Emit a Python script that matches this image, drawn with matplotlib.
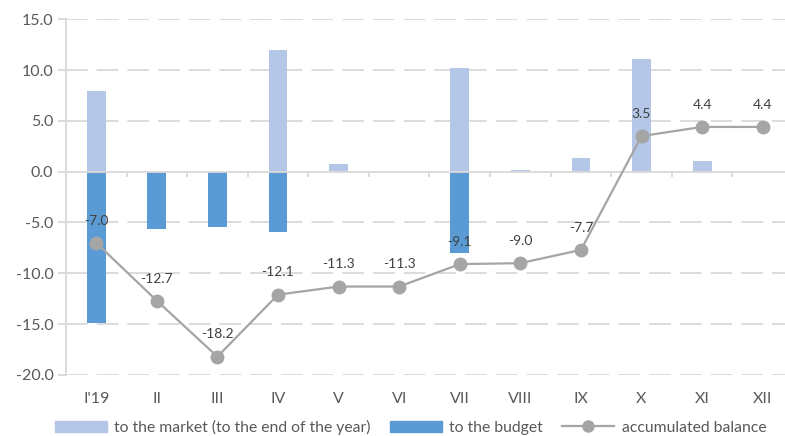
import numpy as np
import matplotlib.pyplot as plt
from matplotlib.patches import Patch
from matplotlib.lines import Line2D

plt.rcParams['font.family'] = ['Lato', 'DejaVu Sans']

months = ["I'19", "II", "III", "IV", "V", "VI", "VII", "VIII", "IX", "X", "XI", "XII"]
to_market = [7.9, 0.0, 0.0, 12.0, 0.8, 0.0, 10.2, 0.2, 1.3, 11.1, 1.0, 0.0]
to_budget = [-14.9, -5.6, -5.4, -5.9, 0.0, 0.0, -8.0, 0.0, 0.0, 0.0, 0.0, 0.0]
balance = [-7.0, -12.7, -18.2, -12.1, -11.3, -11.3, -9.1, -9.0, -7.7, 3.5, 4.4, 4.4]

c_market = '#B4C7E7'
c_budget = '#5B9BD5'
c_line = '#A5A5A5'
c_text = '#595959'
c_grid = '#D9D9D9'


def main():
    fig = plt.figure(figsize=(7.85, 4.36), dpi=100)
    ax = fig.add_axes([0.084, 0.14, 0.916, 0.816])

    x = np.arange(len(months))
    ax.bar(x, to_market, width=0.31, color=c_market, zorder=2)
    ax.bar(x, to_budget, width=0.31, color=c_budget, zorder=2)
    ax.plot(x, balance, color=c_line, lw=1.6, marker='o', ms=9, zorder=4)

    # value labels above the balance points
    for xi, v in zip(x, balance):
        ax.annotate(f'{v:.1f}', (xi, v), xytext=(0, 16), textcoords='offset points',
                    ha='center', va='center', fontsize=10, color='#404040', zorder=5)

    ax.set_ylim(-20, 15)
    ax.set_yticks(np.arange(-20, 16, 5))
    ax.set_yticklabels([f'{t:.1f}' for t in np.arange(-20, 16, 5)])
    ax.set_xlim(-0.5, 11.5 - (793 - 785) / 60.6)
    ax.set_xticks(x)
    ax.set_xticklabels(months)

    for t in np.arange(-20, 16, 5):
        if t == 0:
            continue
        ln = ax.axhline(t, color=c_grid, lw=1.3, zorder=1)
        ln.set_dashes((12, 5))
    ax.axhline(0, color=c_grid, lw=1.3, zorder=3)
    ax.vlines(x[:-1] + 0.5, -0.55, 0, color=c_grid, lw=1.3, zorder=3)

    for s in ['top', 'right', 'bottom']:
        ax.spines[s].set_visible(False)
    ax.spines['left'].set_color(c_grid)
    ax.spines['left'].set_linewidth(1.3)
    ax.tick_params(axis='y', colors=c_grid, labelcolor=c_text, labelsize=11.5,
                   length=6, width=1.3, pad=3)
    ax.tick_params(axis='x', labelcolor=c_text, labelsize=11.5, length=0, pad=12)

    handles = [Patch(color=c_market), Patch(color=c_budget),
               Line2D([], [], color=c_line, lw=1.6, marker='o', ms=8)]
    labels = ['to the market (to the end of the year)', 'to the budget', 'accumulated balance']
    fig.legend(handles, labels, loc='center', bbox_to_anchor=(0.523, 0.02), ncol=3,
               frameon=False, fontsize=11.3, labelcolor=c_text, handlelength=3.3,
               handleheight=0.7, columnspacing=1.2, handletextpad=0.5)

    fig.savefig('out.png', dpi=100)


main()
